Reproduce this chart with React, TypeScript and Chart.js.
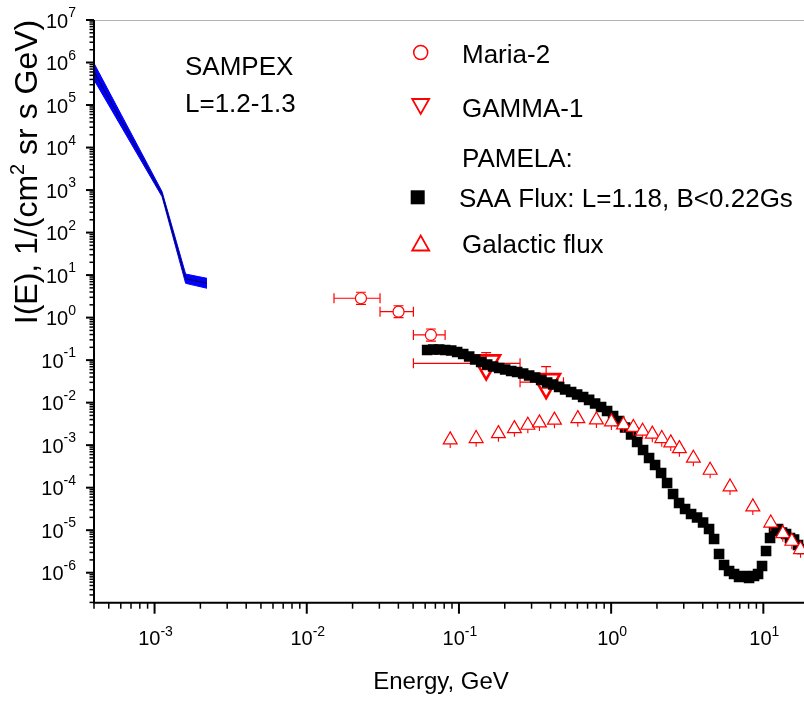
import { useEffect, useRef } from "react";
import { Chart, registerables } from "chart.js";

Chart.register(...registerables);

const FONT = '"Liberation Sans", Arial, sans-serif';
const RED = "#ff0000";

// Axis ranges
const X_MIN = 4.0e-4;
const X_MAX = 18.5;
const Y_MIN = 1.97e-7;
const Y_MAX = 1e7;
const X_DECADES = [-3, -2, -1, 0, 1];
const Y_DECADES = [7, 6, 5, 4, 3, 2, 1, 0, -1, -2, -3, -4, -5, -6];

// SAMPEX band
const sampexE = [4.0e-4, 1.12e-3, 1.6e-3, 2.21e-3];
const sampexUpper = [9.6e5, 920, 10.6, 8.4];
const sampexLower = [3.9e5, 700, 6.4, 4.9];
const sampexCenter = [6.1e5, 800, 8.2, 6.4];

// Maria-2
const mariaE = [0.0227, 0.0401, 0.0654];
const mariaI = [2.85, 1.38, 0.391];
const mariaELow = [0.0151, 0.0303, 0.0502];
const mariaEHigh = [0.0303, 0.0502, 0.0811];
const mariaILow = [2.05, 1.0, 0.28];
const mariaIHigh = [3.95, 1.9, 0.54];

// GAMMA-1
const gammaE = [0.151, 0.374];
const gammaI = [0.0839, 0.0303];
const gammaELow = [0.0502, 0.252];
const gammaEHigh = [0.252, 0.486];
const gammaILow = [0.06, 0.022];
const gammaIHigh = [0.15, 0.07];

// PAMELA SAA flux
const saaE = [0.0618, 0.0677, 0.0741, 0.0812, 0.0889, 0.0973, 0.1066, 0.1167, 0.1278, 0.1399, 0.1532, 0.1677, 0.1837, 0.2011, 0.2203, 0.2412, 0.2641, 0.2892, 0.3166, 0.3467, 0.3797, 0.4157, 0.4552, 0.4984, 0.5457, 0.5976, 0.6543, 0.7165, 0.7845, 0.859, 0.9406, 1.03, 1.128, 1.235, 1.352, 1.481, 1.621, 1.775, 1.944, 2.129, 2.331, 2.552, 2.795, 3.06, 3.351, 3.669, 4.018, 4.399, 4.746, 5.117, 5.52, 5.954, 6.422, 6.925, 7.468, 8.056, 8.689, 9.232, 9.806, 10.42, 11.07, 11.76, 12.49, 13.27, 14.1, 14.97, 15.91, 16.9, 17.96];
const saaI = [0.1733, 0.1781, 0.1781, 0.1733, 0.1687, 0.1555, 0.1396, 0.122, 0.1036, 0.0905, 0.079, 0.071, 0.0654, 0.0603, 0.0556, 0.0527, 0.0486, 0.0436, 0.0391, 0.0341, 0.0298, 0.0268, 0.0234, 0.0204, 0.0178, 0.0156, 0.0136, 0.0116, 0.00957, 0.00791, 0.00637, 0.00486, 0.00371, 0.00261, 0.00178, 0.00119, 7.71e-4, 5.0e-4, 3.42e-4, 2.22e-4, 1.29e-4, 7.12e-5, 4.37e-5, 3.16e-5, 2.41e-5, 1.99e-5, 1.52e-5, 1.07e-5, 6.22e-6, 2.76e-6, 1.52e-6, 1.1e-6, 9.35e-7, 7.95e-7, 8.39e-7, 7.52e-7, 8.39e-7, 9.35e-7, 1.44e-6, 3.25e-6, 6.57e-6, 9.6e-6, 1.07e-5, 8.85e-6, 8.16e-6, 6.57e-6, 5.99e-6, 4.47e-6, 3.62e-6];

// PAMELA galactic flux
const galE = [0.0876, 0.1297, 0.1817, 0.2314, 0.2835, 0.3379, 0.424, 0.604, 0.8, 1.004, 1.204, 1.4, 1.609, 1.864, 2.151, 2.465, 2.808, 3.47, 4.47, 6.04, 8.53, 11.19, 13.43, 15.39, 17.55];
const galI = [1.33e-3, 1.43e-3, 1.87e-3, 2.45e-3, 2.94e-3, 3.34e-3, 3.87e-3, 4.21e-3, 3.92e-3, 3.53e-3, 3.0e-3, 2.61e-3, 2.13e-3, 1.82e-3, 1.43e-3, 1.13e-3, 8.3e-4, 4.93e-4, 2.57e-4, 1.04e-4, 3.53e-5, 1.47e-5, 8.3e-6, 5.5e-6, 3.5e-6];
const galEErrDex = 0.033;
const galIErrDex = 0.19;

const pts = (xs: number[], ys: number[]) => xs.map((x, i) => ({ x, y: ys[i] }));

type ErrSpec = {
  xLo: number[];
  xHi: number[];
  yLo: number[];
  yHi: number[];
  cap: number;
  width: number;
};

const errors: Record<string, ErrSpec> = {
  "Maria-2": { xLo: mariaELow, xHi: mariaEHigh, yLo: mariaILow, yHi: mariaIHigh, cap: 5, width: 1.2 },
  "GAMMA-1": { xLo: gammaELow, xHi: gammaEHigh, yLo: gammaILow, yHi: gammaIHigh, cap: 5, width: 1.2 },
  "Galactic flux": {
    xLo: galE.map((e) => e / Math.pow(10, galEErrDex)),
    xHi: galE.map((e) => e * Math.pow(10, galEErrDex)),
    yLo: galI.map((v) => v / Math.pow(10, galIErrDex)),
    yHi: galI.map((v) => v * Math.pow(10, galIErrDex)),
    cap: 0,
    width: 1.1,
  },
};

const errorPlugin = {
  id: "errorBars",
  beforeDatasetDraw(chart: any, args: any) {
    const ds = chart.data.datasets[args.index];
    const spec = errors[ds.label];
    if (!spec) return;
    const ctx = chart.ctx as CanvasRenderingContext2D;
    const xs = chart.scales.x;
    const ys = chart.scales.y;
    const a = chart.chartArea;
    ctx.save();
    ctx.beginPath();
    ctx.rect(a.left, a.top, a.right - a.left, a.bottom - a.top);
    ctx.clip();
    ctx.strokeStyle = RED;
    ctx.lineWidth = spec.width;
    ds.data.forEach((p: any, i: number) => {
      const px = xs.getPixelForValue(p.x);
      const py = ys.getPixelForValue(p.y);
      const x1 = xs.getPixelForValue(spec.xLo[i]);
      const x2 = xs.getPixelForValue(spec.xHi[i]);
      const y1 = ys.getPixelForValue(spec.yLo[i]);
      const y2 = ys.getPixelForValue(spec.yHi[i]);
      ctx.beginPath();
      ctx.moveTo(x1, py);
      ctx.lineTo(x2, py);
      ctx.moveTo(px, y1);
      ctx.lineTo(px, y2);
      if (spec.cap > 0) {
        ctx.moveTo(x1, py - spec.cap);
        ctx.lineTo(x1, py + spec.cap);
        ctx.moveTo(x2, py - spec.cap);
        ctx.lineTo(x2, py + spec.cap);
        ctx.moveTo(px - spec.cap, y1);
        ctx.lineTo(px + spec.cap, y1);
        ctx.moveTo(px - spec.cap, y2);
        ctx.lineTo(px + spec.cap, y2);
      }
      ctx.stroke();
    });
    ctx.restore();
  },
};

function drawPow(
  ctx: CanvasRenderingContext2D,
  exp: string,
  x: number,
  baseY: number,
  expY: number,
  align: "center" | "right"
) {
  ctx.textAlign = "left";
  ctx.textBaseline = "alphabetic";
  ctx.font = `20px ${FONT}`;
  const bw = ctx.measureText("10").width;
  ctx.font = `14px ${FONT}`;
  const ew = ctx.measureText(exp).width;
  const left = align === "center" ? x - (bw + ew) / 2 : x - bw - ew;
  ctx.font = `20px ${FONT}`;
  ctx.fillText("10", left, baseY);
  ctx.font = `14px ${FONT}`;
  ctx.fillText(exp, left + bw, expY);
}

function triPath(ctx: CanvasRenderingContext2D, cx: number, cy: number, w: number, h: number, down: boolean) {
  ctx.beginPath();
  if (down) {
    ctx.moveTo(cx - w / 2, cy - h / 2);
    ctx.lineTo(cx + w / 2, cy - h / 2);
    ctx.lineTo(cx, cy + h / 2);
  } else {
    ctx.moveTo(cx - w / 2, cy + h / 2);
    ctx.lineTo(cx + w / 2, cy + h / 2);
    ctx.lineTo(cx, cy - h / 2);
  }
  ctx.closePath();
}

const decorPlugin = {
  id: "decor",
  afterDraw(chart: any) {
    const ctx = chart.ctx as CanvasRenderingContext2D;
    const xs = chart.scales.x;
    const ys = chart.scales.y;
    const a = chart.chartArea;
    ctx.save();

    // top frame line
    ctx.strokeStyle = "#b4b4b4";
    ctx.lineWidth = 1;
    ctx.beginPath();
    ctx.moveTo(a.left, a.top + 0.5);
    ctx.lineTo(a.right, a.top + 0.5);
    ctx.stroke();

    ctx.strokeStyle = "#000";
    // Y ticks
    for (let n = -7; n <= 7; n++) {
      for (let m = 1; m <= 9; m++) {
        const v = m * Math.pow(10, n);
        if (v < Y_MIN || v > Y_MAX * 1.0001) continue;
        const py = ys.getPixelForValue(v);
        const major = m === 1;
        ctx.lineWidth = major ? 2 : 1.5;
        ctx.beginPath();
        ctx.moveTo(a.left, py);
        ctx.lineTo(a.left - (major ? 8 : 4.5), py);
        ctx.stroke();
      }
    }
    // X ticks
    for (let n = -4; n <= 1; n++) {
      for (let m = 1; m <= 9; m++) {
        const v = m * Math.pow(10, n);
        if (v < X_MIN || v > X_MAX) continue;
        const px = xs.getPixelForValue(v);
        const major = m === 1;
        ctx.lineWidth = major ? 2 : 1.5;
        ctx.beginPath();
        ctx.moveTo(px, a.bottom);
        ctx.lineTo(px, a.bottom + (major ? 11 : 6));
        ctx.stroke();
      }
    }
    // axis lines
    ctx.lineWidth = 2;
    ctx.beginPath();
    ctx.moveTo(a.left, a.top);
    ctx.lineTo(a.left, a.bottom + 1);
    ctx.moveTo(a.left - 1, a.bottom);
    ctx.lineTo(a.right, a.bottom);
    ctx.stroke();

    // tick labels
    ctx.fillStyle = "#000";
    Y_DECADES.forEach((d) => {
      const py = ys.getPixelForValue(Math.pow(10, d));
      drawPow(ctx, String(d), 76, py + 7.5, py - 3, "right");
    });
    X_DECADES.forEach((d) => {
      const px = xs.getPixelForValue(Math.pow(10, d));
      drawPow(ctx, String(d), px + 1, 645, 636, "center");
    });

    // axis titles
    ctx.textAlign = "center";
    ctx.textBaseline = "alphabetic";
    ctx.font = `24px ${FONT}`;
    ctx.fillText("Energy, GeV", 441, 689);

    ctx.save();
    ctx.translate(37, 172);
    ctx.rotate(-Math.PI / 2);
    ctx.textAlign = "left";
    const big = `32px ${FONT}`;
    const small = `20px ${FONT}`;
    const p1 = "I(E), 1/(cm";
    const p2 = "2";
    const p3 = " sr s GeV)";
    ctx.font = big;
    const w1 = ctx.measureText(p1).width;
    const w3 = ctx.measureText(p3).width;
    ctx.font = small;
    const w2 = ctx.measureText(p2).width;
    let x0 = -(w1 + w2 + w3) / 2;
    ctx.font = big;
    ctx.fillText(p1, x0, 0);
    ctx.font = small;
    ctx.fillText(p2, x0 + w1, -13);
    ctx.font = big;
    ctx.fillText(p3, x0 + w1 + w2, 0);
    ctx.restore();

    // SAMPEX annotation
    ctx.textAlign = "left";
    ctx.font = `26px ${FONT}`;
    ctx.fillText("SAMPEX", 185, 75);
    ctx.fillText("L=1.2-1.3", 185, 112);

    // legend
    ctx.fillText("Maria-2", 462, 62.5);
    ctx.fillText("GAMMA-1", 462, 116.5);
    ctx.fillText("PAMELA:", 462, 166.5);
    ctx.fillText("SAA Flux: L=1.18, B<0.22Gs", 459, 206.5);
    ctx.fillText("Galactic flux", 462, 253);

    ctx.strokeStyle = RED;
    ctx.lineWidth = 1.5;
    ctx.beginPath();
    ctx.arc(420.7, 52.5, 7, 0, Math.PI * 2);
    ctx.stroke();
    ctx.lineWidth = 1.8;
    triPath(ctx, 420.7, 106.5, 17, 15, true);
    ctx.stroke();
    triPath(ctx, 420.7, 243, 17, 15, false);
    ctx.stroke();
    ctx.fillStyle = "#000";
    ctx.fillRect(410.7, 190.3, 14, 14);

    ctx.restore();
  },
};

export default function App() {
  const ref = useRef<HTMLCanvasElement | null>(null);
  useEffect(() => {
    if (!ref.current) return;
    const chart = new Chart(ref.current, {
      type: "line",
      data: {
        datasets: [
          {
            label: "SAMPEX upper",
            data: pts(sampexE, sampexUpper),
            borderColor: "#0000ff",
            borderWidth: 1,
            backgroundColor: "#0000ff",
            pointRadius: 0,
            fill: "+1",
            order: 6,
          },
          {
            label: "SAMPEX lower",
            data: pts(sampexE, sampexLower),
            borderColor: "#0000ff",
            borderWidth: 1,
            pointRadius: 0,
            fill: false,
            order: 7,
          },
          {
            label: "SAMPEX",
            data: pts(sampexE, sampexCenter),
            borderColor: "#000000",
            borderWidth: 0.8,
            pointRadius: 0,
            fill: false,
            order: 5,
          },
          {
            label: "Maria-2",
            data: pts(mariaE, mariaI),
            showLine: false,
            pointStyle: "circle",
            pointRadius: 5.5,
            borderColor: RED,
            backgroundColor: "#ffffff",
            pointBorderWidth: 1.2,
            order: 4,
          },
          {
            label: "GAMMA-1",
            data: pts(gammaE, gammaI),
            showLine: false,
            pointStyle: "triangle",
            pointRotation: 180,
            pointRadius: 16,
            borderColor: RED,
            backgroundColor: "rgba(0,0,0,0)",
            pointBorderWidth: 2.6,
            order: 3,
          },
          {
            label: "SAA Flux: L=1.18, B<0.22Gs",
            data: pts(saaE, saaI),
            showLine: false,
            pointStyle: "rect",
            pointRadius: 7.5,
            borderColor: "#000000",
            backgroundColor: "#000000",
            pointBorderWidth: 0,
            order: 2,
          },
          {
            label: "Galactic flux",
            data: pts(galE, galI),
            showLine: false,
            pointStyle: "triangle",
            pointRadius: 8,
            borderColor: RED,
            backgroundColor: "#ffffff",
            pointBorderWidth: 1.2,
            order: 1,
          },
        ],
      },
      options: {
        animation: false,
        responsive: false,
        events: [],
        layout: { autoPadding: false, padding: { left: 94, right: 0, top: 20, bottom: 99.3 } },
        plugins: {
          legend: { display: false },
          tooltip: { enabled: false },
        },
        scales: {
          x: { type: "logarithmic", min: X_MIN, max: X_MAX, display: false },
          y: { type: "logarithmic", min: Y_MIN, max: Y_MAX, display: false },
        },
      },
      plugins: [errorPlugin, decorPlugin],
    });
    return () => chart.destroy();
  }, []);

  return (
    <div style={{ position: "absolute", left: 0, top: 0, width: 804, height: 702, background: "#fff" }}>
      <canvas ref={ref} width={804} height={702} style={{ display: "block" }} />
    </div>
  );
}
